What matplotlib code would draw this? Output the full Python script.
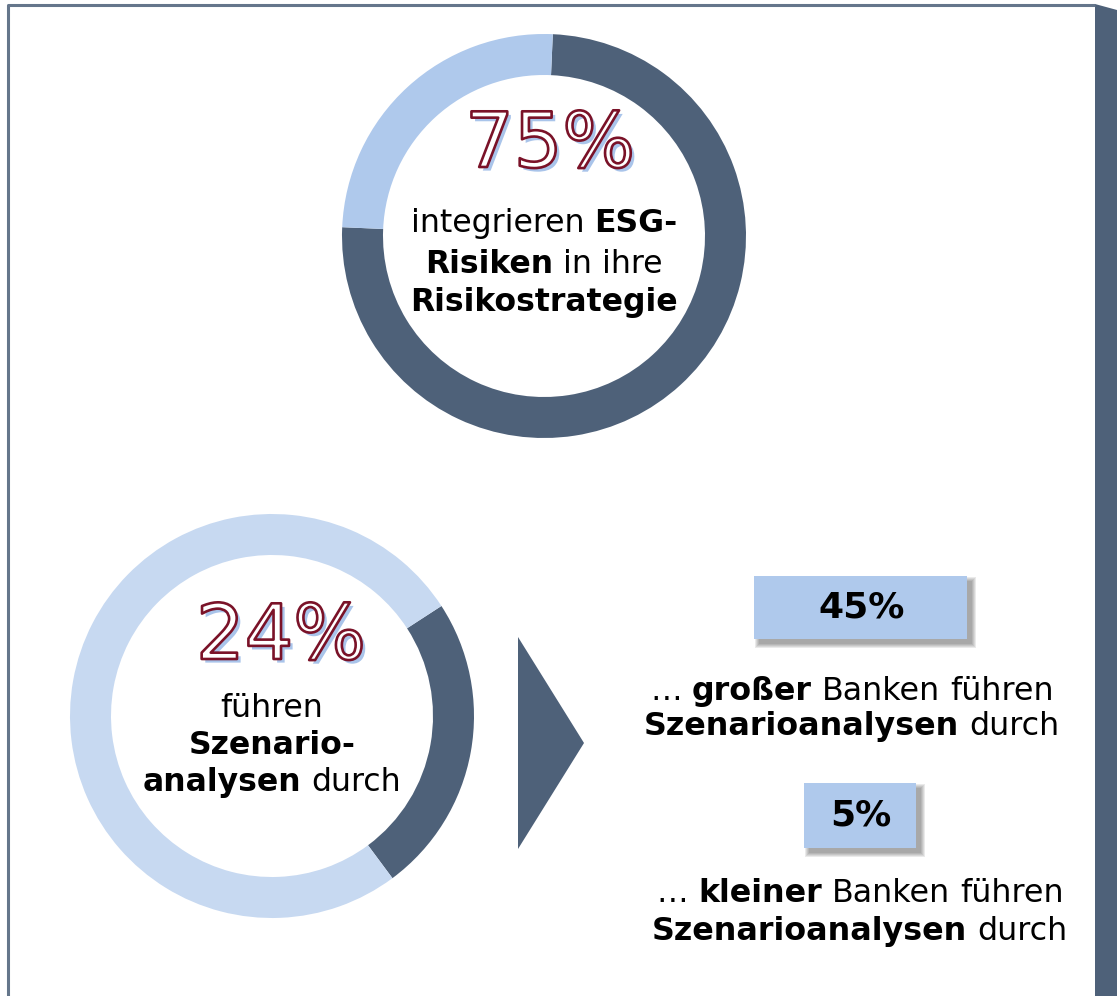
import matplotlib
matplotlib.use("Agg")
import matplotlib.pyplot as plt
import matplotlib.patheffects as pe
from matplotlib.patches import Rectangle, Polygon

W, H = 1117, 996

# data
esg_share = [75, 25]          # integrieren ESG-Risiken / Rest
scenario_share = [24, 76]     # führen Szenarioanalysen / Rest
large_banks = 45
small_banks = 5

dark = '#4e6179'
light1 = '#afc9ec'
light2 = '#c7d9f1'
box_col = '#afc9ec'

plt.rcParams['font.family'] = ['DejaVu Sans']

fig = plt.figure(figsize=(W / 100, H / 100), dpi=100)
ax = fig.add_axes([0, 0, 1, 1])
renderer = fig.canvas.get_renderer()


def Y(y):
    return H - y


def text_width(s, size, weight):
    t = ax.text(0, 0, s, fontsize=size, fontweight=weight)
    w = t.get_window_extent(renderer).width
    t.remove()
    return w


def rich_line(x, y, parts, size):
    # parts: list of (word, weight), centred at x
    sp = text_width('x x', size, 'normal') - text_width('xx', size, 'normal')
    widths = [text_width(s, size, w) for s, w in parts]
    total = sum(widths) + sp * (len(parts) - 1)
    cx = x - total / 2
    for (s, w), wd in zip(parts, widths):
        ax.text(cx, Y(y), s, fontsize=size, fontweight=w, ha='left', va='center_baseline')
        cx += wd + sp


def big_pct(x, y, s):
    ax.text(x, Y(y), s, fontsize=55, color='white', ha='center', va='center',
            path_effects=[pe.SimplePatchShadow(offset=(2.6, -2.6), shadow_rgbFace='#a9c4ea', alpha=1),
                          pe.Stroke(linewidth=1.9, foreground='#7a1228')])


def shadow_box(x0, y0, x1, y1, label):
    # soft drop shadow (right / bottom), stacked translucent rectangles
    for i in range(9, -1, -1):
        g = i * 0.45
        ax.add_patch(Rectangle((x0 + 5 - g, Y(y1) - 5 - g), x1 - x0 + 2 * g, y1 - y0 + 2 * g,
                               facecolor='#333333', edgecolor='none', alpha=0.05))
    ax.add_patch(Rectangle((x0, Y(y1)), x1 - x0, y1 - y0, facecolor=box_col, edgecolor='none'))
    ax.text((x0 + x1) / 2 + 1, Y((y0 + y1) / 2), label, fontsize=26, fontweight='bold',
            ha='center', va='center')


# frame
ax.plot([8, 8, 1095], [0, Y(5), Y(5)], color='#65768b', lw=2.2, solid_capstyle='butt')
ax.add_patch(Polygon([(1095, Y(4)), (1117, Y(10)), (1117, 0), (1095, 0)],
                     closed=True, facecolor=dark, edgecolor='none'))

# donut 1
ax.pie(esg_share, colors=[dark, light1], startangle=87.5, counterclock=False,
       center=(544, Y(236)), radius=202, wedgeprops=dict(width=41, linewidth=0))
# donut 2
ax.pie(scenario_share, colors=[dark, light2], startangle=33, counterclock=False,
       center=(272, Y(716)), radius=202, wedgeprops=dict(width=41, linewidth=0))

# arrow triangle
ax.add_patch(Polygon([(518, Y(637)), (584, Y(743)), (518, Y(849))], closed=True,
                     facecolor=dark, edgecolor='none'))

big_pct(550, 146, '%d%%' % esg_share[0])
big_pct(281, 638, '%d%%' % scenario_share[0])

fs = 22.7
rich_line(544, 220, [('integrieren', 'normal'), ('ESG-', 'bold')], fs)
rich_line(544, 261, [('Risiken', 'bold'), ('in', 'normal'), ('ihre', 'normal')], fs)
rich_line(544, 299, [('Risikostrategie', 'bold')], fs)

rich_line(272, 705, [('führen', 'normal')], fs)
rich_line(272, 742, [('Szenario-', 'bold')], fs)
rich_line(272, 779, [('analysen', 'bold'), ('durch', 'normal')], fs)

shadow_box(754, 576, 967, 639, '%d%%' % large_banks)
shadow_box(804, 783, 916, 848, '%d%%' % small_banks)

fs2 = 22.9
rich_line(852, 688, [('…', 'normal'), ('großer', 'bold'), ('Banken', 'normal'), ('führen', 'normal')], fs2)
rich_line(852, 723, [('Szenarioanalysen', 'bold'), ('durch', 'normal')], fs2)
rich_line(860, 890, [('…', 'normal'), ('kleiner', 'bold'), ('Banken', 'normal'), ('führen', 'normal')], fs2)
rich_line(860, 928, [('Szenarioanalysen', 'bold'), ('durch', 'normal')], fs2)

ax.set_xlim(0, W)
ax.set_ylim(0, H)
ax.set_aspect('auto')
ax.axis('off')

fig.savefig('out.png', dpi=100, facecolor='white')
plt.close(fig)
